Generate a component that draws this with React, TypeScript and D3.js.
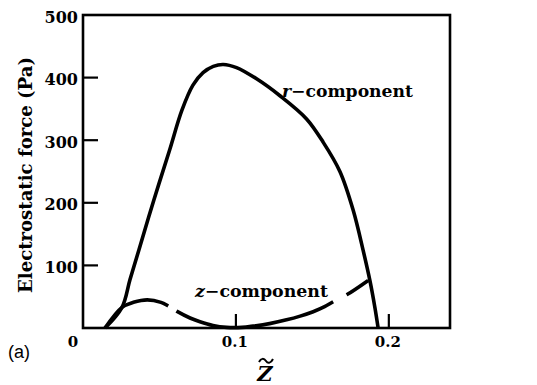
import React from 'react';
import * as d3 from 'd3';

// values: [z~, force in Pa]
const rComponent: [number, number][] = [
  [0.0144, 0], [0.0255, 33], [0.0307, 77], [0.0366, 125], [0.0464, 205],
  [0.0566, 284], [0.0647, 348], [0.0719, 388], [0.0785, 408], [0.0852, 418],
  [0.0917, 421], [0.1004, 416], [0.1135, 398], [0.1288, 371], [0.1462, 334],
  [0.157, 297], [0.168, 250], [0.1767, 188], [0.1832, 124], [0.1876, 76],
  [0.1908, 34], [0.193, 0],
];

const zComponent: [number, number][] = [
  [0.0144, 0], [0.0255, 33], [0.033, 41], [0.042, 45], [0.051, 41],
  [0.0558, 35], [0.0612, 27], [0.07, 16], [0.0765, 10], [0.085, 4],
  [0.0939, 1], [0.104, 1], [0.1113, 3], [0.122, 7], [0.1331, 13],
  [0.142, 19], [0.1505, 26], [0.158, 34], [0.1636, 42], [0.1724, 53],
  [0.1865, 76],
];
// where the dashes of the z-component start and stop (z~ values)
const zDashBreaks = [0.0558, 0.0612, 0.1636, 0.1724];

const yTicks = [100, 200, 300, 400];
const yLabels = [100, 200, 300, 400, 500];
const xTicks = [0.1, 0.2];
const xLabels = [0, 0.1, 0.2];

const width = 537;
const height = 385;
const serif = '"DejaVu Serif", serif';

export default function App() {
  const x = d3.scaleLinear().domain([0, 0.24]).range([83, 450]);
  const y = d3.scaleLinear().domain([0, 500]).range([328, 15]);

  const line = d3.line<[number, number]>()
    .x((d) => x(d[0]))
    .y((d) => y(d[1]))
    .curve(d3.curveCatmullRom.alpha(0.5));

  // length along the z polyline up to a given z~, to place the dash gaps
  const pts = zComponent.map((d) => [x(d[0]), y(d[1])]);
  const lengthAt = (zv: number) => {
    const px = x(zv);
    let acc = 0;
    for (let i = 1; i < pts.length; i++) {
      const [x0, y0] = pts[i - 1];
      const [x1, y1] = pts[i];
      const seg = Math.hypot(x1 - x0, y1 - y0);
      if (px <= x1) return acc + seg * ((px - x0) / (x1 - x0));
      acc += seg;
    }
    return acc;
  };
  const total = lengthAt(zComponent[zComponent.length - 1][0]);
  const b = zDashBreaks.map(lengthAt);
  const dash = [b[0], b[1] - b[0], b[2] - b[1], b[3] - b[2], total - b[3] + 20].join(' ');

  const tilde = 'M259,362 C261,358 264,358 266,361 C268,364 271,363 273,359';

  return (
    <svg width={width} height={height} style={{ position: 'absolute', left: 0, top: 0, background: '#fff' }}>
      {/* curves */}
      <path d={line(rComponent) || ''} fill="none" stroke="#000" strokeWidth={3.6} />
      <path d={line(zComponent) || ''} fill="none" stroke="#000" strokeWidth={3.6}
        pathLength={total} strokeDasharray={dash} />

      {/* frame */}
      <rect x={x(0)} y={y(500)} width={x(0.24) - x(0)} height={y(0) - y(500)}
        fill="none" stroke="#000" strokeWidth={2.6} />

      {yTicks.map((t) => (
        <line key={'yt' + t} x1={x(0)} x2={x(0) + 15} y1={y(t)} y2={y(t)} stroke="#000" strokeWidth={2.2} />
      ))}
      {xTicks.map((t) => (
        <line key={'xt' + t} x1={x(t)} x2={x(t)} y1={y(0)} y2={y(0) - 14} stroke="#000" strokeWidth={2.2} />
      ))}

      {yLabels.map((t) => (
        <text key={'yl' + t} x={x(0) - 5} y={y(t) + 2} textAnchor="end" dominantBaseline="central"
          fontFamily={serif} fontWeight="bold" fontSize={16}>{t}</text>
      ))}
      {xLabels.map((t) => (
        <text key={'xl' + t} x={t === 0 ? x(0) - 10 : x(t) - 1} y={347} textAnchor="middle"
          fontFamily={serif} fontWeight="bold" fontSize={15}>{t === 0 ? '0' : d3.format('.1f')(t)}</text>
      ))}

      {/* curve labels */}
      <text x={282} y={97} fontFamily={serif} fontWeight="bold" fontSize={17} textLength={131} lengthAdjust="spacingAndGlyphs">
        <tspan fontStyle="italic">r</tspan>−component
      </text>
      <text x={195} y={297} fontFamily={serif} fontWeight="bold" fontSize={17} textLength={133} lengthAdjust="spacingAndGlyphs">
        <tspan fontStyle="italic">z</tspan>−component
      </text>

      {/* axis titles */}
      <text transform="translate(32,175) rotate(-90)" textAnchor="middle" fontFamily={serif}
        fontWeight="bold" fontSize={18} textLength={236} lengthAdjust="spacingAndGlyphs">
        Electrostatic force (Pa)
      </text>
      <text x={265} y={381} textAnchor="middle" fontFamily={serif} fontWeight="bold"
        fontStyle="italic" fontSize={21}>Z</text>
      <path d={tilde} fill="none" stroke="#000" strokeWidth={2} />
      <text x={8} y={358} fontFamily='"Liberation Sans", Arial, sans-serif' fontSize={18}>(a)</text>
    </svg>
  );
}
